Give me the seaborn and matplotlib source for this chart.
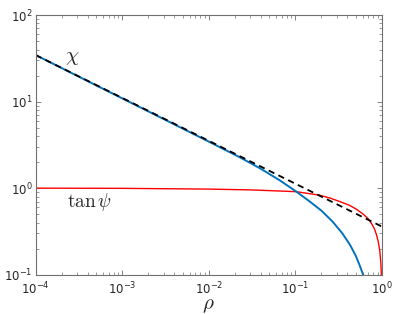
import numpy as np
import pandas as pd
import matplotlib
matplotlib.use("Agg")
import matplotlib.pyplot as plt
import seaborn as sns

# chi (blue)
rho_chi = [1e-4, 3e-4, 1e-3, 3e-3, 1e-2, 0.0229, 0.0389, 0.0662, 0.103, 0.147,
           0.2, 0.27, 0.35, 0.43, 0.5, 0.56, 0.607, 0.65]
chi = [34.5, 19.9, 10.9, 6.3, 3.45, 2.27, 1.70, 1.23, 0.91, 0.70,
       0.55, 0.41, 0.30, 0.22, 0.165, 0.125, 0.1, 0.078]

# tan psi (red)
rho_tan = [1e-4, 1e-3, 1e-2, 0.03, 0.06, 0.103, 0.19, 0.25, 0.327, 0.42, 0.51,
           0.61, 0.70, 0.76, 0.82, 0.867, 0.91, 0.946, 0.975, 0.99, 0.999]
tan_psi = [1.0, 0.995, 0.975, 0.955, 0.93, 0.91, 0.83, 0.77, 0.70, 0.635, 0.57,
           0.50, 0.44, 0.39, 0.34, 0.29, 0.24, 0.19, 0.135, 0.09, 0.03]

# asymptote (black dashed)
rho_asym = [1e-4, 1.0]
chi_asym = [34.5, 0.36]

sns.set_style("ticks")
plt.rcParams["mathtext.fontset"] = "cm"
plt.rcParams["font.family"] = ["DejaVu Sans"]

fig = plt.figure(figsize=(3.99, 3.14), dpi=100)
ax = fig.add_axes([0.0895, 0.1252, 0.8675, 0.8268])

sns.lineplot(x=rho_tan, y=tan_psi, color="#ff0000", lw=1.0, ax=ax)
sns.lineplot(x=rho_chi, y=chi, color="#0072bd", lw=1.4, ax=ax)
sns.lineplot(x=rho_asym, y=chi_asym, color="black", lw=1.3, ax=ax,
             linestyle=(0, (3.5, 2.5)))

ax.set_xscale("log")
ax.set_yscale("log")
ax.set_xlim(1e-4, 1)
ax.set_ylim(1e-1, 1e2)

ax.text(2.63e-4, 33, r"$\chi$", fontsize=15, ha="center", va="center")
ax.text(4.24e-4, 0.69, r"$\tan\psi$", fontsize=14, ha="center", va="center")
ax.set_xlabel(r"$\rho$", fontsize=15, labelpad=-1)

for s in ax.spines.values():
    s.set_color("#707070")
    s.set_linewidth(0.8)
ax.tick_params(which="both", direction="in", top=True, right=True,
               color="#707070", labelcolor="#262626", labelsize=8.5)
ax.tick_params(which="major", length=3.5, width=0.6)
ax.tick_params(which="minor", length=2, width=0.5)
ax.tick_params(axis="x", pad=4)
ax.tick_params(axis="y", pad=2)

fig.savefig("out.png", dpi=100)
